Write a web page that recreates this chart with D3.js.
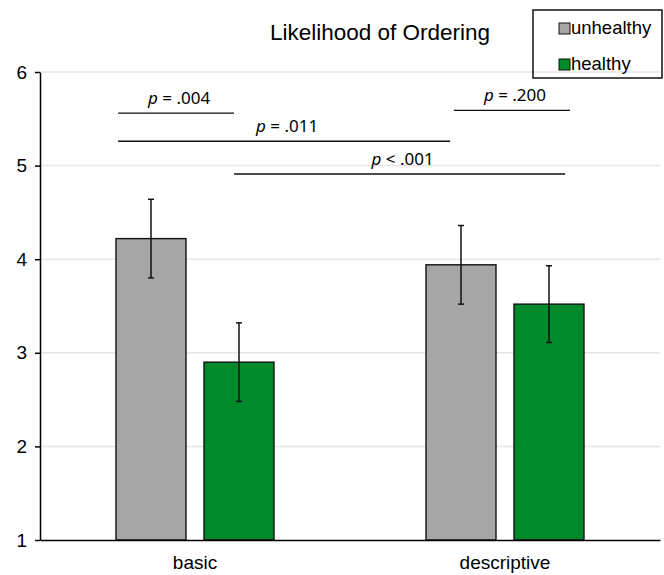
<!DOCTYPE html>
<html>
<head>
<meta charset="utf-8">
<script src="https://cdn.jsdelivr.net/npm/d3@7"></script>
<style>
  body { margin: 0; background: #fff; }
  text { font-family: "Liberation Sans", Arial, sans-serif; fill: #000; }
  .ptext { font-family: "Noto Sans", sans-serif; font-size: 17px; }
</style>
</head>
<body>
<div id="chart"></div>
<script>
// Chart data
const categories = ["basic", "descriptive"];
const seriesNames = ["unhealthy", "healthy"];
const means = [[4.22, 2.90], [3.94, 3.52]]; // [category][series]
const errors = [[0.42, 0.42], [0.42, 0.41]];
const yTicks = [1, 2, 3, 4, 5, 6];

// significance brackets, x in category units (0..2), y in data units
const bracketLabels = [".004", ".011", ".200", "< .001"];
const bracketFrom = [0.252, 0.252, 1.335, 0.626];
const bracketTo = [0.626, 1.323, 1.71, 1.694];
const bracketLevel = [5.56, 5.26, 5.59, 4.91];

const WIDTH = 664, HEIGHT = 575;
const MARGIN = {LEFT: 40, RIGHT: 4, TOP: 72, BOTTOM: 35};
const colors = {unhealthy: "#a6a6a6", healthy: "#008a2b"};

const svg = d3.select("#chart")
  .append("svg")
  .attr("width", WIDTH)
  .attr("height", HEIGHT);

const y = d3.scaleLinear()
  .domain([1, 6])
  .range([HEIGHT - MARGIN.BOTTOM, MARGIN.TOP]);

const x0 = d3.scaleBand()
  .domain(categories)
  .range([MARGIN.LEFT, WIDTH - MARGIN.RIGHT])
  .paddingInner(0)
  .paddingOuter(0);

const x1 = d3.scaleBand()
  .domain(seriesNames)
  .range([0, x0.bandwidth()])
  .paddingInner(0.2045)
  .paddingOuter(0.8636);

const xCat = d3.scaleLinear()
  .domain([0, categories.length])
  .range([MARGIN.LEFT, WIDTH - MARGIN.RIGHT]);

// gridlines
svg.append("g")
  .selectAll("line")
  .data(yTicks.slice(1))
  .enter()
  .append("line")
  .attr("x1", MARGIN.LEFT)
  .attr("x2", WIDTH - MARGIN.RIGHT)
  .attr("y1", d => y(d))
  .attr("y2", d => y(d))
  .attr("stroke", "#e6e6e6")
  .attr("stroke-width", 1.5);

// title
svg.append("text")
  .attr("x", 380)
  .attr("y", 40)
  .attr("text-anchor", "middle")
  .style("font-size", "22.5px")
  .text("Likelihood of Ordering");

// bars
const groups = svg.append("g")
  .selectAll("g")
  .data(categories)
  .enter()
  .append("g")
  .attr("transform", d => "translate(" + x0(d) + ",0)");

groups.selectAll("rect")
  .data((c, i) => seriesNames.map((s, j) => ({s: s, v: means[i][j], e: errors[i][j]})))
  .enter()
  .append("rect")
  .attr("x", d => x1(d.s))
  .attr("y", d => y(d.v))
  .attr("width", x1.bandwidth())
  .attr("height", d => y(1) - y(d.v))
  .attr("fill", d => colors[d.s])
  .attr("stroke", "#111")
  .attr("stroke-width", 1.4);

// error bars
const errG = groups.selectAll(".err")
  .data((c, i) => seriesNames.map((s, j) => ({s: s, v: means[i][j], e: errors[i][j]})))
  .enter()
  .append("g")
  .attr("class", "err")
  .attr("stroke", "#111")
  .attr("stroke-width", 1.5);

errG.append("line")
  .attr("x1", d => x1(d.s) + x1.bandwidth() / 2)
  .attr("x2", d => x1(d.s) + x1.bandwidth() / 2)
  .attr("y1", d => y(d.v + d.e))
  .attr("y2", d => y(d.v - d.e));

[1, -1].forEach(sign => {
  errG.append("line")
    .attr("x1", d => x1(d.s) + x1.bandwidth() / 2 - 3)
    .attr("x2", d => x1(d.s) + x1.bandwidth() / 2 + 3)
    .attr("y1", d => y(d.v + sign * d.e))
    .attr("y2", d => y(d.v + sign * d.e));
});

// axes
const yAxis = svg.append("g")
  .attr("transform", "translate(" + MARGIN.LEFT + ",0)")
  .call(d3.axisLeft(y).tickValues(yTicks).tickFormat(d3.format("d")).tickSize(5).tickSizeOuter(0).tickPadding(8));
yAxis.selectAll("path, line").attr("stroke", "#000").attr("stroke-width", 1.5);
yAxis.selectAll("text").style("font-size", "19px").attr("font-family", null);

const xAxis = svg.append("g")
  .attr("transform", "translate(0," + y(1) + ")")
  .call(d3.axisBottom(x0).tickSize(0).tickPadding(16));
xAxis.select(".domain").attr("stroke", "#000").attr("stroke-width", 1.5);
xAxis.selectAll("text").style("font-size", "19px").attr("font-family", null);

// significance brackets
const br = svg.append("g")
  .selectAll("g")
  .data(bracketLabels.map((l, i) => ({l: l, a: bracketFrom[i], b: bracketTo[i], v: bracketLevel[i]})))
  .enter()
  .append("g");

br.append("line")
  .attr("x1", d => xCat(d.a))
  .attr("x2", d => xCat(d.b))
  .attr("y1", d => y(d.v))
  .attr("y2", d => y(d.v))
  .attr("stroke", "#111")
  .attr("stroke-width", 1.3);

const pt = br.append("text")
  .attr("class", "ptext")
  .attr("x", d => (xCat(d.a) + xCat(d.b)) / 2 + 3)
  .attr("y", d => y(d.v) - 9)
  .attr("text-anchor", "middle");
pt.append("tspan").style("font-style", "italic").text("p");
pt.append("tspan").text(d => (d.l.charAt(0) === "<" ? " " : " = ") + d.l);

// legend
const legend = svg.append("g");
legend.append("rect")
  .attr("x", 533)
  .attr("y", 10)
  .attr("width", 129)
  .attr("height", 68)
  .attr("fill", "none")
  .attr("stroke", "#111")
  .attr("stroke-width", 1.5);

const items = legend.selectAll(".item")
  .data(seriesNames)
  .enter()
  .append("g")
  .attr("class", "item")
  .attr("transform", (d, i) => "translate(559," + (23 + i * 36) + ")");

items.append("rect")
  .attr("width", 11)
  .attr("height", 11)
  .attr("fill", d => colors[d])
  .attr("stroke", "#111")
  .attr("stroke-width", 1);

items.append("text")
  .attr("x", 12)
  .attr("y", 11)
  .style("font-size", "18.5px")
  .text(d => d);
</script>
</body>
</html>
